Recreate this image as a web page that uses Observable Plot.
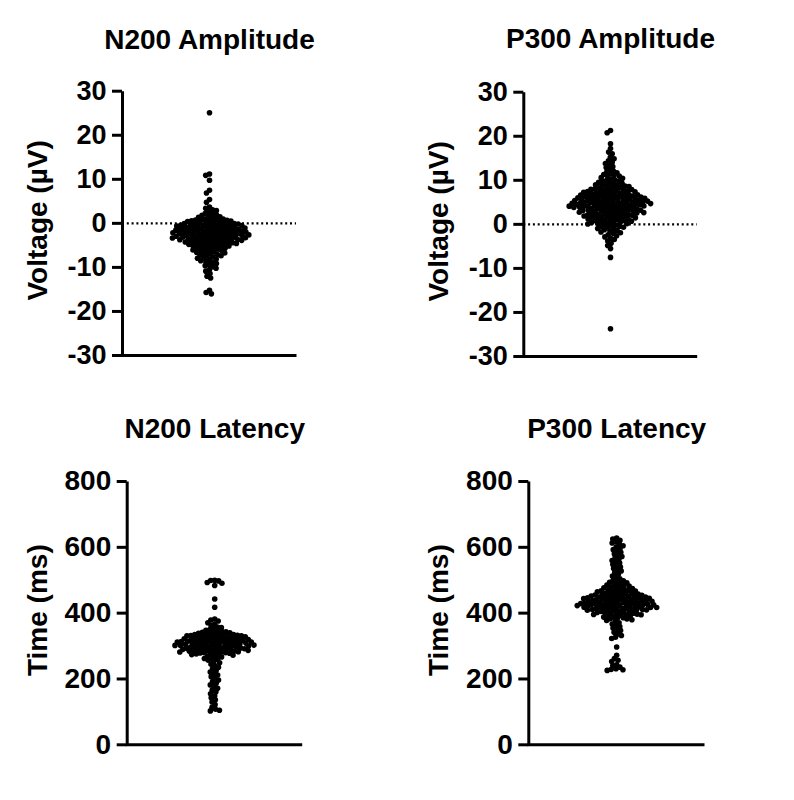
<!DOCTYPE html>
<html>
<head>
<meta charset="utf-8">
<script src="https://cdn.jsdelivr.net/npm/d3@7"></script>
<script src="https://cdn.jsdelivr.net/npm/@observablehq/plot@0.6"></script>
<style>
  body { margin: 0; background: #fff; }
  #chart { position: relative; width: 794px; height: 800px; overflow: hidden; }
  #chart svg { position: absolute; }
</style>
</head>
<body>
<div id="chart"></div>
<script>
// Per-participant ERP measures (one value per dot)
const n200Amplitude = [
  25.1, 11.2, 10.9, 9.8, 7.5, 6.9, 5.4, 4.8,
  3.7, 3.4, 3.1, 2.9, 2.6, 2.3, 2.1,
  1.95, 1.8, 1.65, 1.5, 1.35, 1.2, 1.05,
  0.96, 0.9, 0.83, 0.77, 0.7, 0.64, 0.57, 0.5, 0.43, 0.36, 0.29, 0.21, 0.14, 0.06,
  -0.02, -0.07, -0.11, -0.16, -0.22, -0.25, -0.31, -0.36, -0.4, -0.44,
  -0.51, -0.55, -0.6, -0.66, -0.7, -0.74, -0.81, -0.86, -0.9, -0.97,
  -1.03, -1.07, -1.12, -1.16, -1.21, -1.27, -1.3, -1.35, -1.41, -1.45, -1.49,
  -1.54, -1.58, -1.63, -1.68, -1.72, -1.77, -1.82, -1.86, -1.9, -1.94, -1.99,
  -2.02, -2.06, -2.11, -2.15, -2.2, -2.26, -2.29, -2.34, -2.4, -2.44, -2.48,
  -2.53, -2.57, -2.62, -2.67, -2.71, -2.76, -2.81, -2.85, -2.9, -2.93, -2.98,
  -3.03, -3.08, -3.12, -3.17, -3.22, -3.27, -3.31, -3.36, -3.42, -3.46,
  -3.5, -3.56, -3.6, -3.65, -3.71, -3.75, -3.8, -3.86, -3.91, -3.97,
  -4.04, -4.1, -4.15, -4.22, -4.28, -4.33, -4.4, -4.46,
  -4.52, -4.58, -4.65, -4.7, -4.77, -4.83, -4.9, -4.96,
  -5.05, -5.14, -5.22, -5.31, -5.4, -5.48, -5.57, -5.66, -5.75, -5.84, -5.93,
  -6.05, -6.16, -6.27, -6.38, -6.5, -6.61, -6.72, -6.84, -6.95,
  -7.07, -7.2, -7.35, -7.5, -7.63, -7.78, -7.92,
  -8.1, -8.3, -8.5, -8.7, -8.9, -9.1, -9.35, -9.6, -9.85,
  -10.2, -10.5, -10.85, -11.4, -12.0, -12.4, -15.2, -15.7, -16.0
];

const p300Amplitude = [
  21.3, 20.8, 18.3, 17.2, 16.4, 16.0, 15.2, 14.9, 14.4, 14.1,
  13.8, 13.5, 13.1, 12.9, 12.5, 12.1,
  11.9, 11.7, 11.5, 11.3, 11.1,
  10.95, 10.8, 10.6, 10.45, 10.25, 10.05,
  9.95, 9.8, 9.7, 9.55, 9.4, 9.3, 9.15, 9.02,
  8.96, 8.87, 8.78, 8.68, 8.58, 8.48, 8.38, 8.28, 8.18, 8.08, 8.02,
  7.97, 7.9, 7.83, 7.76, 7.69, 7.62, 7.55, 7.47, 7.4, 7.32, 7.25, 7.17, 7.09, 7.02,
  6.97, 6.92, 6.86, 6.81, 6.76, 6.7, 6.65, 6.59, 6.54, 6.48,
  6.43, 6.37, 6.32, 6.26, 6.21, 6.16, 6.1, 6.05, 6.01,
  5.97, 5.93, 5.88, 5.83, 5.78, 5.73, 5.68, 5.63, 5.58, 5.53, 5.48,
  5.43, 5.38, 5.33, 5.28, 5.23, 5.18, 5.13, 5.08, 5.04, 5.01,
  4.98, 4.94, 4.89, 4.85, 4.8, 4.76, 4.71, 4.67, 4.62, 4.58, 4.53,
  4.49, 4.44, 4.4, 4.35, 4.31, 4.26, 4.22, 4.17, 4.13, 4.08, 4.04, 4.01,
  3.97, 3.92, 3.86, 3.81, 3.75, 3.7, 3.64, 3.59, 3.53, 3.48,
  3.42, 3.37, 3.31, 3.26, 3.2, 3.15, 3.1, 3.05, 3.01,
  2.97, 2.91, 2.85, 2.79, 2.73, 2.67, 2.61, 2.55, 2.49,
  2.43, 2.37, 2.31, 2.25, 2.19, 2.13, 2.07, 2.02,
  1.96, 1.89, 1.82, 1.75, 1.68, 1.61, 1.54, 1.47, 1.4, 1.33, 1.26, 1.19, 1.12, 1.05,
  0.97, 0.89, 0.81, 0.73, 0.65, 0.57, 0.49, 0.41, 0.33, 0.25, 0.17, 0.08,
  -0.05, -0.17, -0.3, -0.42, -0.55, -0.67, -0.8, -0.93,
  -1.05, -1.22, -1.38, -1.55, -1.72, -1.9,
  -2.1, -2.35, -2.6, -2.85, -3.15, -3.45, -3.8,
  -4.3, -4.8, -5.5, -7.5, -23.7
];

const n200Latency = [
  500, 499, 498, 493, 491, 484, 443, 418,
  382, 379, 376, 371, 367, 362,
  358, 356, 353, 350, 348, 346,
  344, 343, 342, 341, 340, 339, 338, 336, 335,
  335, 334, 333, 333, 332, 331, 331, 330, 329, 328, 328, 327, 326, 325,
  324, 324, 323, 322, 322, 321, 320, 320, 319, 318, 318, 317, 316, 316, 315, 315,
  314, 314, 313, 312, 312, 311, 310, 310, 309, 308, 308, 307, 306, 306, 305, 305,
  304, 304, 303, 302, 302, 301, 300, 300, 299, 298, 298, 297, 296, 296, 295, 295,
  294, 293, 293, 292, 291, 290, 290, 289, 288, 287, 287, 286, 285, 285,
  284, 283, 283, 282, 281, 280, 280, 279, 278, 277, 276, 275,
  274, 272, 270, 269, 267, 265, 262, 259, 257,
  254, 249, 245, 241, 236, 231, 226, 221, 216, 212, 207, 202, 197, 192, 187,
  182, 177, 172, 166, 161, 155, 149, 143, 137, 130, 122, 114, 108, 105, 103
];

const p300Latency = [
  628, 625, 621,
  616, 613, 609, 605, 601, 597, 593, 589, 585, 580, 576, 572, 568, 564,
  560, 556, 552, 548, 544, 540, 536, 532, 528, 523, 518, 513, 508, 504,
  500, 498, 496, 494, 492, 489, 487,
  485, 483, 482, 480, 479, 477, 475, 474, 472, 471,
  470, 469, 468, 467, 466, 465, 463, 462, 461, 460, 459, 458, 457, 456,
  455, 454, 454, 453, 452, 452, 451, 450, 449, 449, 448, 447, 447, 446, 445, 444, 444,
  443, 442, 442, 441, 440, 440,
  439, 438, 438, 437, 436, 436, 435, 434, 434, 433, 432, 432, 431, 430, 430, 429,
  428, 428, 427, 426, 426, 425, 425, 425,
  424, 423, 423, 422, 421, 421, 420, 419, 419, 418, 417, 417, 416, 415, 415, 414,
  413, 413, 412, 411, 411, 410, 410,
  409, 408, 407, 406, 405, 404, 403, 402, 401, 400, 399, 398, 397, 396, 395, 395,
  394, 392, 391, 389, 388, 386, 385, 383, 382, 380,
  378, 375, 371, 367,
  363, 359, 355, 351, 347, 342, 337, 332, 327, 323,
  297,
  272, 262, 257, 253, 243, 240, 236, 231, 229, 228, 226
];

const voltageTicks = [-30, -20, -10, 0, 10, 20, 30];
const timeTicks = [0, 200, 400, 600, 800];

const titles = ["N200 Amplitude", "P300 Amplitude", "N200 Latency", "P300 Latency"];
const yLabels = ["Voltage (µV)", "Voltage (µV)", "Time (ms)", "Time (ms)"];

const font = "'Liberation Sans', Arial, Helvetica, sans-serif";

const panels = [
  {values: n200Amplitude, ticks: voltageTicks, zero: true, left: 0, top: 0, width: 400,
   mL: 122, mR: 104, mT: 90.7, mB: 45, titleDy: -42.4, labelDx: -84, labelDy: -3, tickFont: 27},
  {values: p300Amplitude, ticks: voltageTicks, zero: true, left: 400, top: 0, width: 394,
   mL: 123.3, mR: 97.3, mT: 91.7, mB: 44, titleDy: -43.7, labelDx: -85, labelDy: -3, tickFont: 27},
  {values: n200Latency, ticks: timeTicks, zero: false, left: 0, top: 400, width: 400,
   mL: 126.7, mR: 98.3, mT: 81, mB: 55.7, titleDy: -44, labelDx: -89, labelDy: -3, tickFont: 28},
  {values: p300Latency, ticks: timeTicks, zero: false, left: 400, top: 400, width: 394,
   mL: 128.3, mR: 90, mT: 81, mB: 55.7, titleDy: -44, labelDx: -90, labelDy: -3, tickFont: 28}
];

const chart = document.getElementById("chart");

panels.forEach((p, i) => {
  const height = 400;
  const fw = p.width - p.mL - p.mR;
  const fh = height - p.mT - p.mB;
  const domain = d3.extent(p.ticks);
  const svg = Plot.plot({
    width: p.width,
    height,
    marginLeft: p.mL,
    marginRight: p.mR,
    marginTop: p.mT,
    marginBottom: p.mB,
    style: {fontFamily: font, background: "transparent", overflow: "visible", color: "#000"},
    y: {domain, label: null},
    marks: [
      // left and bottom axis lines: dash only the bottom and left sides of the frame
      Plot.frame({stroke: "#000", strokeWidth: 3, strokeDasharray: `0 ${fw + fh} ${fw + fh}`}),
      Plot.axisY({
        ticks: p.ticks, tickSize: 10, tickPadding: 6, tickFormat: (d) => String(d),
        fontSize: p.tickFont, fontWeight: "bold", strokeWidth: 3, label: null
      }),
      p.zero ? Plot.ruleY([0], {stroke: "#000", strokeWidth: 2.4, strokeDasharray: "2,2.8"}) : null,
      // overlapping swarm: dots may overlap by 1.6px so dense regions read as solid
      Plot.dot(p.values, Plot.dodgeX({anchor: "middle", padding: -1.6}, {y: (d) => d, r: 2.8, fill: "#000"})),
      Plot.text([titles[i]], {text: (d) => d, frameAnchor: "top", lineAnchor: "bottom", dy: p.titleDy,
        fontSize: 28, fontWeight: "bold", fill: "#000"}),
      Plot.text([yLabels[i]], {text: (d) => d, frameAnchor: "left", textAnchor: "middle", lineAnchor: "middle",
        rotate: -90, dx: p.labelDx, dy: p.labelDy, fontSize: 28, fontWeight: "bold", fill: "#000"})
    ]
  });
  svg.style.left = p.left + "px";
  svg.style.top = p.top + "px";
  chart.appendChild(svg);
});
</script>
</body>
</html>
